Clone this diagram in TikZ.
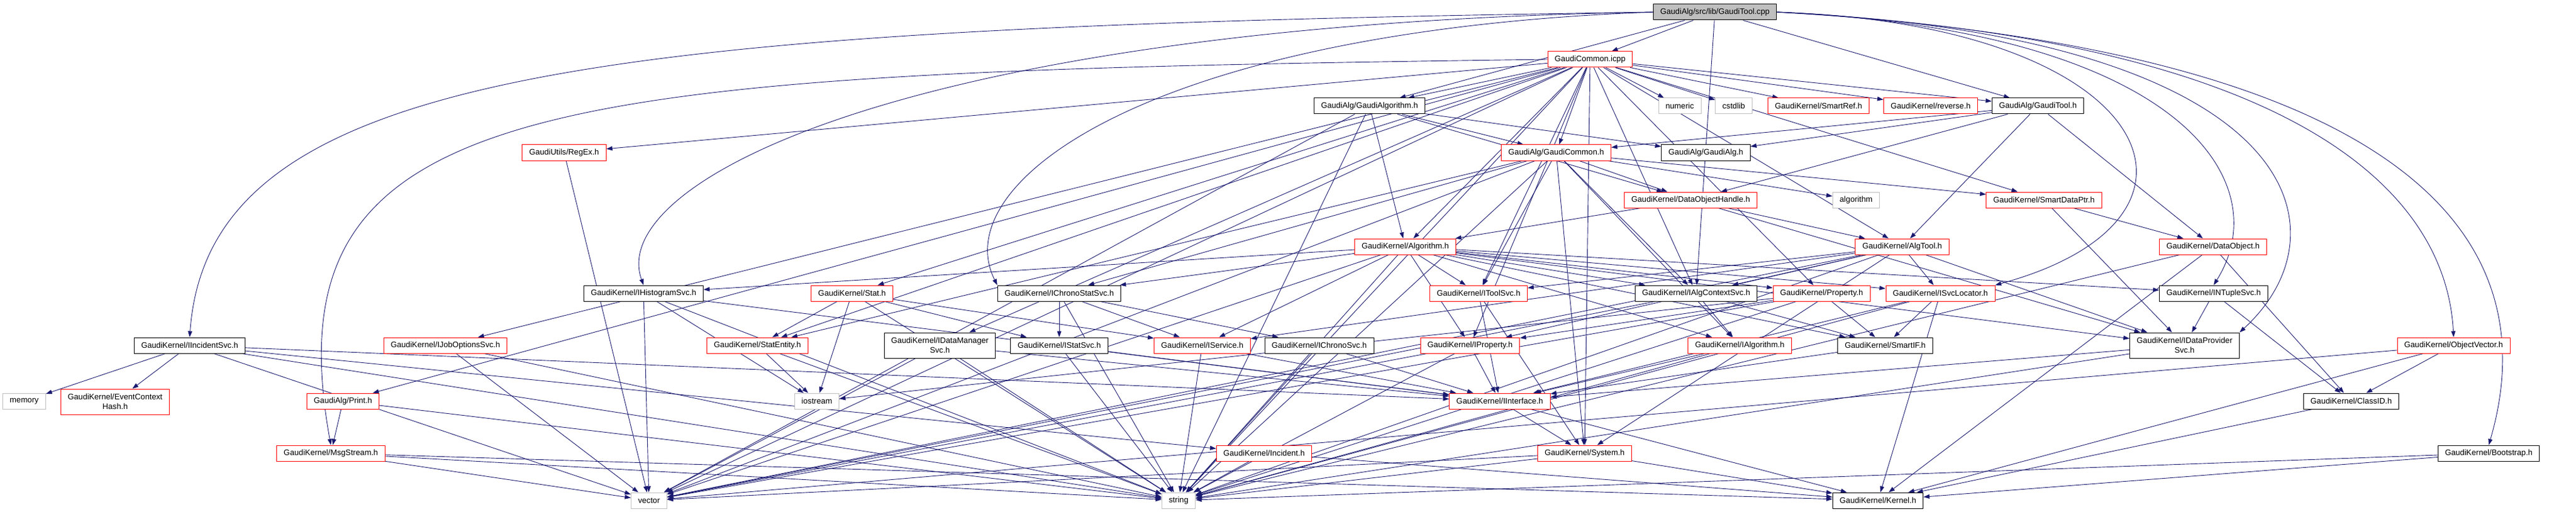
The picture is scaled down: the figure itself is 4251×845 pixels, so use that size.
\documentclass[tikz,border=0pt]{standalone}
\usepackage{fontspec}
\setmainfont{Liberation Sans}
\usetikzlibrary{arrows.meta}
\definecolor{edgeblue}{RGB}{25,25,112}
\definecolor{boxgray}{RGB}{191,191,191}
\pgfdeclarelayer{edges}
\pgfsetlayers{edges,main}
\tikzset{
  file/.style={draw=black,fill=white,line width=1pt,inner xsep=11.5pt,inner ysep=3pt,
    minimum height=26pt,font=\fontsize{13.2}{16}\selectfont,align=center},
  redfile/.style={file,draw=red},
  sysfile/.style={file,draw=boxgray},
  rootfile/.style={file,fill=boxgray},
  dep/.style={draw=edgeblue,line width=0.9pt,-{Triangle[length=10pt,width=7pt]}}
}
\begin{document}
\begin{tikzpicture}[x=1pt,y=-1pt]
\useasboundingbox (0,0) rectangle (4251,845);
% top rows
\node [rootfile] (root) at (2830,20) {GaudiAlg/src/lib/GaudiTool.cpp};
\node [redfile] (icpp) at (2624,98) {GaudiCommon.icpp};
\node [file] (galgo) at (2260,175) {GaudiAlg/GaudiAlgorithm.h};
\node [sysfile] (numeric) at (2772,175) {numeric};
\node [sysfile] (cstdlib) at (2861,175) {cstdlib};
\node [redfile] (smartref) at (3001,175) {GaudiKernel/SmartRef.h};
\node [redfile] (reverse) at (3186,175) {GaudiKernel/reverse.h};
\node [file] (gtool) at (3363,175) {GaudiAlg/GaudiTool.h};
\node [redfile] (regex) at (931,252) {GaudiUtils/RegEx.h};
\node [redfile] (gcommon) at (2568,252) {GaudiAlg/GaudiCommon.h};
\node [file] (galg) at (2815,252) {GaudiAlg/GaudiAlg.h};
\node [redfile] (doh) at (2790,330) {GaudiKernel/DataObjectHandle.h};
\node [sysfile] (algorithm) at (3063,330) {algorithm};
\node [redfile] (sdp) at (3373,330) {GaudiKernel/SmartDataPtr.h};
\node [redfile] (algo) at (2319,407) {GaudiKernel/Algorithm.h};
\node [redfile] (algtool) at (3139,407) {GaudiKernel/AlgTool.h};
\node [redfile] (dataobj) at (3652,407) {GaudiKernel/DataObject.h};
% interface row
\node [file] (ihisto) at (1062,484) {GaudiKernel/IHistogramSvc.h};
\node [redfile] (stat) at (1406,484) {GaudiKernel/Stat.h};
\node [file] (ichronostat) at (1748,484) {GaudiKernel/IChronoStatSvc.h};
\node [redfile] (itoolsvc) at (2440,484) {GaudiKernel/IToolSvc.h};
\node [file] (ialgctx) at (2799,484) {GaudiKernel/IAlgContextSvc.h};
\node [redfile] (property) at (3006,484) {GaudiKernel/Property.h};
\node [redfile] (isvcloc) at (3202,484) {GaudiKernel/ISvcLocator.h};
\node [file] (intuple) at (3653,484) {GaudiKernel/INTupleSvc.h};
\node [file] (iincident) at (313,570) {GaudiKernel/IIncidentSvc.h};
\node [redfile] (ijobopt) at (735,570) {GaudiKernel/IJobOptionsSvc.h};
\node [redfile] (statentity) at (1250,570) {GaudiKernel/StatEntity.h};
\node [file,minimum height=42pt] (idatamgr) at (1551,570) {GaudiKernel/IDataManager\\Svc.h};
\node [file] (istatsvc) at (1748,570) {GaudiKernel/IStatSvc.h};
\node [redfile] (iservice) at (1984,570) {GaudiKernel/IService.h};
\node [file] (ichrono) at (2177,570) {GaudiKernel/IChronoSvc.h};
\node [redfile] (iproperty) at (2426,570) {GaudiKernel/IProperty.h};
\node [redfile] (ialgorithm) at (2871,570) {GaudiKernel/IAlgorithm.h};
\node [file] (smartif) at (3111,570) {GaudiKernel/SmartIF.h};
\node [file,minimum height=42pt] (idataprov) at (3605,570) {GaudiKernel/IDataProvider\\Svc.h};
\node [redfile] (objvector) at (4049,570) {GaudiKernel/ObjectVector.h};
% bottom rows
\node [sysfile] (memory) at (40,662) {memory};
\node [redfile,minimum height=42pt] (ecxhash) at (190,663) {GaudiKernel/EventContext\\Hash.h};
\node [redfile] (print) at (566,662) {GaudiAlg/Print.h};
\node [sysfile] (iostream) at (1348,662) {iostream};
\node [redfile] (iinterface) at (2475,662) {GaudiKernel/IInterface.h};
\node [file] (classid) at (3880,662) {GaudiKernel/ClassID.h};
\node [redfile] (msgstream) at (546,748) {GaudiKernel/MsgStream.h};
\node [redfile] (incident) at (2086,748) {GaudiKernel/Incident.h};
\node [redfile] (system) at (2615,748) {GaudiKernel/System.h};
\node [file] (bootstrap) at (4107,748) {GaudiKernel/Bootstrap.h};
\node [sysfile] (vector) at (1071,826) {vector};
\node [sysfile] (string) at (1945,826) {string};
\node [file] (kernel) at (3099,826) {GaudiKernel/Kernel.h};

\begin{pgfonlayer}{edges}
\foreach \a/\b in {root/icpp,root/galgo,root/gtool,root/ialgctx,
  icpp/galgo,icpp/numeric,icpp/cstdlib,icpp/smartref,icpp/reverse,icpp/gtool,icpp/gcommon,icpp/sdp,
  icpp/algo,icpp/algtool,icpp/itoolsvc,icpp/ialgctx,icpp/statentity,icpp/stat,icpp/ijobopt,icpp/regex,
  icpp/print,icpp/idatamgr,icpp/iproperty,icpp/property,icpp/system,icpp/string,icpp/vector,
  galgo/gcommon,galgo/galg,galgo/doh,galgo/algo,galgo/string,galgo/vector,
  gtool/gcommon,gtool/galg,gtool/doh,gtool/algtool,gtool/dataobj,
  gcommon/doh,gcommon/algorithm,gcommon/sdp,gcommon/itoolsvc,gcommon/statentity,gcommon/ichronostat,
  gcommon/ialgctx,gcommon/ialgorithm,gcommon/system,gcommon/string,gcommon/vector,
  doh/algo,doh/algtool,doh/idataprov,sdp/dataobj,sdp/idataprov,
  algo/itoolsvc,algo/ialgctx,algo/ihisto,algo/ichronostat,algo/iservice,algo/iproperty,algo/ialgorithm,
  algo/property,algo/isvcloc,algo/intuple,algo/idataprov,algo/smartif,algo/string,algo/vector,
  algtool/itoolsvc,algtool/ialgctx,algtool/iservice,algtool/iproperty,algtool/isvcloc,algtool/idataprov,
  algtool/system,algtool/string,algtool/vector,
  dataobj/classid,dataobj/kernel,dataobj/string,
  ihisto/iostream,ihisto/vector,ihisto/string,ihisto/iinterface,
  stat/statentity,stat/istatsvc,stat/iservice,stat/iostream,stat/string,
  ichronostat/istatsvc,ichronostat/iservice,ichronostat/ichrono,ichronostat/string,
  itoolsvc/iinterface,itoolsvc/system,ialgctx/ialgorithm,ialgctx/smartif,ialgctx/vector,
  property/smartif,property/iproperty,property/iostream,property/string,property/vector,
  isvcloc/smartif,isvcloc/iinterface,isvcloc/kernel,isvcloc/string,intuple/idataprov,intuple/classid,
  iincident/memory,iincident/ecxhash,iincident/vector,iincident/string,iincident/incident,iincident/iinterface,
  ijobopt/vector,ijobopt/string,statentity/iostream,statentity/string,
  idatamgr/vector,idatamgr/string,idatamgr/iinterface,istatsvc/string,istatsvc/iinterface,
  iservice/string,iservice/iinterface,ichrono/string,ichrono/iinterface,
  iproperty/iinterface,iproperty/string,iproperty/vector,ialgorithm/iinterface,ialgorithm/string,
  smartif/iinterface,idataprov/iinterface,idataprov/string,
  objvector/classid,objvector/kernel,objvector/vector,print/msgstream,print/string,
  iinterface/system,iinterface/kernel,system/kernel,system/string,system/vector,
  msgstream/vector,msgstream/string,msgstream/kernel,incident/string,incident/kernel,
  classid/kernel,bootstrap/kernel,bootstrap/string,regex/vector}
  \draw [dep] (\a) -- (\b);
% long swoops round the sides
\draw [dep] (root.west) .. controls (1000,45) and (345,110) .. (iincident.north);
\draw [dep] (root.west) .. controls (1500,40) and (1000,300) .. (ihisto.north);
\draw [dep] (root.west) .. controls (1900,50) and (1560,300) .. (ichronostat.north west);
\draw [dep] (icpp.west) .. controls (900,120) and (440,150) .. (msgstream.north);
\draw [dep] (root.east) .. controls (3600,50) and (3760,300) .. (intuple.north);
\draw [dep] (root.east) .. controls (3560,40) and (3700,360) .. (isvcloc.north east);
\draw [dep] (root.east) .. controls (3800,60) and (3880,380) .. (idataprov.north east);
\draw [dep] (root.east) .. controls (3900,70) and (4040,380) .. (objvector.north);
\draw [dep] (root.east) .. controls (4150,90) and (4175,500) .. (bootstrap.north);
\end{pgfonlayer}
\end{tikzpicture}
\end{document}
